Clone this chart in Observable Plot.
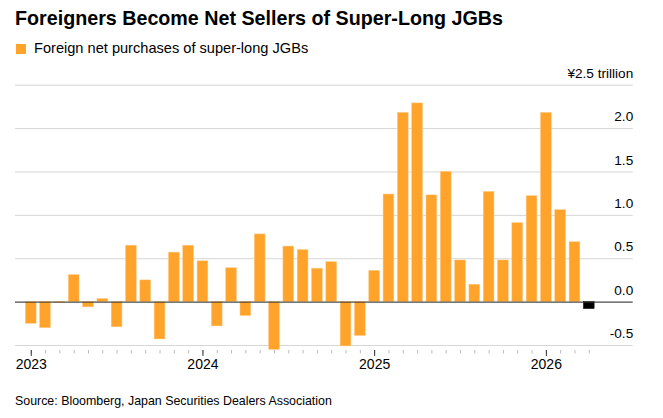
<!DOCTYPE html>
<html>
<head>
<meta charset="utf-8">
<script src="https://cdn.jsdelivr.net/npm/d3@7"></script>
<script src="https://cdn.jsdelivr.net/npm/@observablehq/plot@0.6"></script>
<style>
  html, body { margin: 0; padding: 0; background: #fff; }
  body { width: 663px; height: 418px; position: relative; overflow: hidden; font-family: "Liberation Sans", Arial, sans-serif; }
  #title { position: absolute; left: 15px; top: 6px; font-size: 19.7px; font-weight: 700; color: #000; line-height: 24px; white-space: nowrap; }
  #legend { position: absolute; left: 16px; top: 39px; font-size: 14.6px; color: #000; line-height: 18px; white-space: nowrap; }
  #legend .sw { display: inline-block; width: 10px; height: 10px; background: #ffa32b; margin-right: 8px; vertical-align: -1px; }
  #chart { position: absolute; left: 0; top: 60px; }
  #source { position: absolute; left: 15px; top: 394px; font-size: 12.4px; color: #000; line-height: 15px; white-space: nowrap; }
</style>
</head>
<body>
<div id="title">Foreigners Become Net Sellers of Super-Long JGBs</div>
<div id="legend"><span class="sw"></span>Foreign net purchases of super-long JGBs</div>
<div id="chart"></div>
<div id="source">Source: Bloomberg, Japan Securities Dealers Association</div>
<script>
const months = [
  "2023-01","2023-02","2023-03","2023-04","2023-05","2023-06","2023-07","2023-08","2023-09","2023-10","2023-11","2023-12",
  "2024-01","2024-02","2024-03","2024-04","2024-05","2024-06","2024-07","2024-08","2024-09","2024-10","2024-11","2024-12",
  "2025-01","2025-02","2025-03","2025-04","2025-05","2025-06","2025-07","2025-08","2025-09","2025-10","2025-11","2025-12",
  "2026-01","2026-02","2026-03","2026-04"
];
const values = [
  -0.25, -0.30, -0.01, 0.31, -0.06, 0.035, -0.29, 0.65, 0.25, -0.43, 0.57, 0.65,
  0.47, -0.28, 0.39, -0.16, 0.78, -0.55, 0.64, 0.60, 0.385, 0.46, -0.51, -0.39,
  0.36, 1.24, 2.18, 2.29, 1.23, 1.50, 0.48, 0.20, 1.27, 0.48, 0.91, 1.22,
  2.18, 1.06, 0.69, -0.08
];
const yTicks = [-0.5, 0, 0.5, 1.0, 1.5, 2.0, 2.5];
const yearTicks = ["2023-01", "2024-01", "2025-01", "2026-01"];

const data = months.map((m, i) => ({month: m, value: values[i], latest: i === months.length - 1}));

const chart = Plot.plot({
  width: 663,
  height: 320,
  marginLeft: 15,
  marginRight: 30.3,
  marginTop: 24.7,
  marginBottom: 35,
  style: {fontFamily: "Liberation Sans, Arial, sans-serif", fontSize: "13px", color: "#000", background: "transparent"},
  x: {type: "band", domain: months, paddingInner: 0.25, paddingOuter: 1.71, align: 0.212, round: false, label: null},
  y: {domain: [-0.5, 2.5], label: null},
  marks: [
    Plot.gridY(yTicks, {stroke: "#d6d6d6", strokeOpacity: 1, strokeWidth: 1}),
    Plot.barY(data, {x: "month", y: "value", fill: d => d.latest ? "#000000" : "#ffa32b", stroke: d => d.latest ? "#000000" : "#ffc780", strokeWidth: 0.5}),
    Plot.ruleY([0], {stroke: "#333", strokeWidth: 1}),
    Plot.axisY(yTicks, {anchor: "right", tickSize: 0, tickPadding: 0, textAnchor: "end", dy: -11.6, fontSize: 13.6,
      tickFormat: d => d === 2.5 ? "¥2.5 trillion" : d.toFixed(1)}),
    Plot.axisX(months, {anchor: "bottom", tickSize: 3.5, tickFormat: () => "", stroke: "#bbb", dy: 5, label: null}),
    Plot.axisX(yearTicks, {anchor: "bottom", tickSize: 6, tickPadding: 3, tickFormat: d => d.slice(0, 4), stroke: "#333", dy: 5, fontSize: 14, label: null})
  ]
});
document.getElementById("chart").appendChild(chart);
</script>
</body>
</html>
